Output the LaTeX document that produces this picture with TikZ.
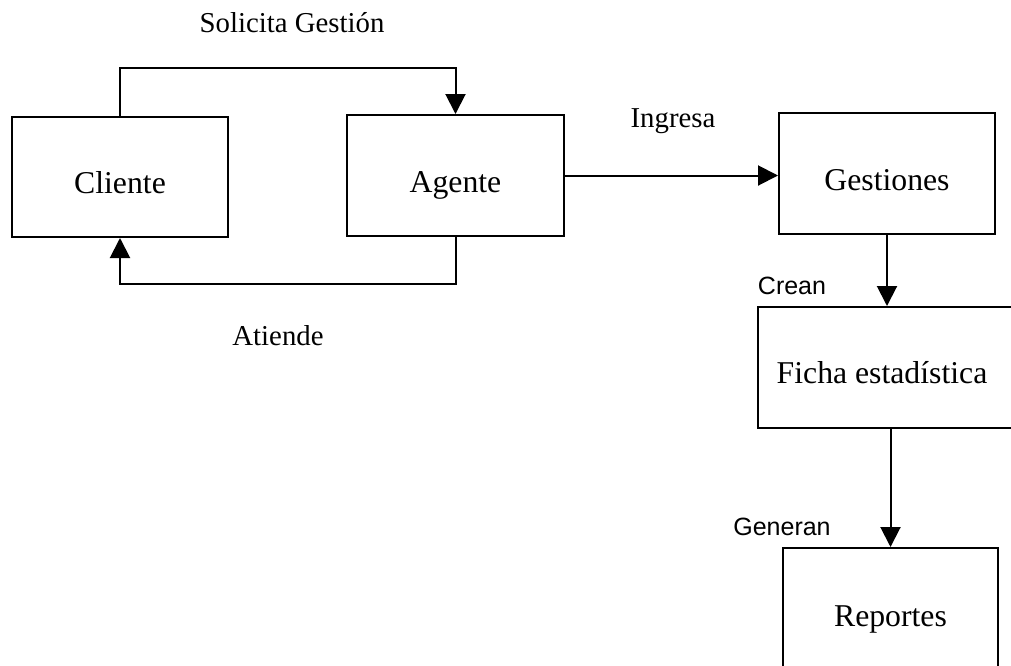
\documentclass[tikz,border=0pt]{standalone}
\usepackage{fontspec}
\setmainfont{Liberation Serif}
\newfontfamily\sansf{Liberation Sans}
\usetikzlibrary{arrows.meta}
\tikzset{
  box/.style={draw, line width=1.5pt, rectangle, inner sep=0pt,
    font=\fontsize{23.8}{28}\selectfont, text height=25pt, text depth=0pt},
  boxtext/.style={font=\fontsize{23.8}{28}\selectfont, inner sep=0pt},
  lbl/.style={font=\fontsize{21.6}{26}\selectfont, inner sep=0pt, anchor=base},
  slbl/.style={font=\sansf\fontsize{18.75}{22}\selectfont, inner sep=0pt, anchor=base},
  arr/.style={line width=1.5pt, -{Triangle[width=15pt,length=15pt]}}
}
\begin{document}
\begin{tikzpicture}[x=0.75pt, y=-0.75pt]
\useasboundingbox (0,0) rectangle (1011,665);
\clip (0,0) rectangle (1011,665);
\fill[white] (0,0) rectangle (1011,665);

\node[box, minimum width=162pt, minimum height=90pt] (cliente) at (120,177) {Cliente};
\node[box, minimum width=162.75pt, minimum height=90.75pt] (agente) at (455.5,175.5) {Agente};
\node[box, minimum width=162pt, minimum height=90.75pt] (gestiones) at (887,173.5) {Gestiones};
\node[box, minimum width=204.75pt, minimum height=90.75pt, anchor=north west] (ficha) at (757,306) {};
\node[boxtext, anchor=base] (fichatxt) at (882,383) {Ficha estadística};
\node[box, minimum width=161.25pt, minimum height=92.25pt, anchor=north] (reportes) at (890.5,547) {Reportes};

\coordinate (tl) at (0,68);
\coordinate (bl) at (0,284);
\draw[arr] (cliente.north) |- (agente.north |- tl) -- (agente.north);
\draw[arr] (agente.south) -- (agente.south |- bl) -| (cliente.south);
\draw[arr] (agente.east) -- (agente.east -| gestiones.west);
\draw[arr] (gestiones.south) -- (gestiones.south |- ficha.north);
\draw[arr] (reportes.north |- ficha.south) -- (reportes.north);

\node[lbl] (solicita) at (292,32) {Solicita Gestión};
\node[lbl] (atiende) at (278,345) {Atiende};
\node[lbl] (ingresa) at (673,127) {Ingresa};
\node[slbl] (crean) at (792,294) {Crean};
\node[slbl] (generan) at (782,535) {Generan};
\end{tikzpicture}
\end{document}
